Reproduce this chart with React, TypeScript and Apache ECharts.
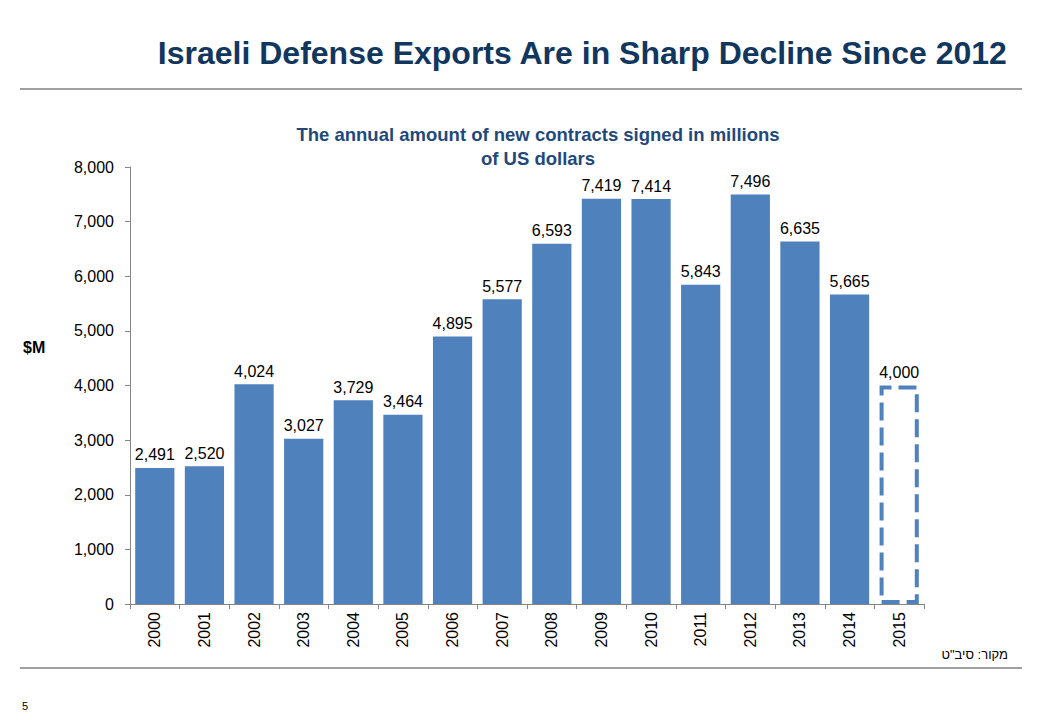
import React, { useEffect, useRef } from "react";
import * as echarts from "echarts";

const years = ["2000","2001","2002","2003","2004","2005","2006","2007","2008","2009","2010","2011","2012","2013","2014","2015"];
const values = [2491, 2520, 4024, 3027, 3729, 3464, 4895, 5577, 6593, 7419, 7414, 5843, 7496, 6635, 5665, 4000];
const estimateYear = "2015";
const yTicks = { min: 0, max: 8000, interval: 1000 };

const titleText = "Israeli Defense Exports Are in Sharp Decline Since 2012";
const subtitleText = "The annual amount of new contracts signed in millions\nof US dollars";
const unitText = "$M";
const sourceText = "מקור: סיב\"ט";
const pageNumber = "5";

const FONT = "'Liberation Sans', Arial, sans-serif";
const BAR = "#4F81BD";

export default function App() {
  const ref = useRef<HTMLDivElement>(null);
  useEffect(() => {
    if (!ref.current) return;
    const chart = echarts.init(ref.current, undefined, { renderer: "svg" });
    const data = values.map((v, i) =>
      years[i] === estimateYear
        ? {
            value: v,
            itemStyle: {
              color: "rgba(255,255,255,0)",
              borderColor: BAR,
              borderWidth: 4,
              borderType: [18, 7],
            },
          }
        : { value: v }
    );
    chart.setOption({
      animation: false,
      backgroundColor: "#fff",
      textStyle: { fontFamily: FONT },
      grid: { left: 130, right: 116, top: 167, bottom: 116, containLabel: false },
      xAxis: {
        type: "category",
        data: years,
        axisLine: { lineStyle: { color: "#868686", width: 1 } },
        axisTick: { show: true, alignWithLabel: false, length: 5, lineStyle: { color: "#868686" } },
        axisLabel: { rotate: 90, fontSize: 16, color: "#000", margin: 8, fontFamily: FONT },
      },
      yAxis: {
        type: "value",
        min: yTicks.min,
        max: yTicks.max,
        interval: yTicks.interval,
        axisLine: { show: true, lineStyle: { color: "#868686", width: 1 } },
        axisTick: { show: true, length: 5, lineStyle: { color: "#868686" } },
        splitLine: { show: false },
        axisLabel: {
          fontSize: 16,
          color: "#000",
          margin: 16,
          fontFamily: FONT,
          formatter: (v: number) => v.toLocaleString("en-US"),
        },
      },
      series: [
        {
          type: "bar",
          data,
          barCategoryGap: "21%",
          itemStyle: { color: BAR },
          label: {
            show: true,
            position: "top",
            distance: 5,
            fontSize: 16,
            color: "#000",
            fontFamily: FONT,
            formatter: (p: any) => Number(p.value).toLocaleString("en-US"),
          },
        },
      ],
      graphic: [
        {
          type: "text",
          right: 32,
          top: 37,
          style: {
            text: titleText,
            fontSize: 32,
            fontWeight: "bold",
            fill: "#12375F",
            fontFamily: FONT,
          },
        },
        {
          type: "line",
          shape: { x1: 20, y1: 89, x2: 1022, y2: 89 },
          style: { stroke: "#404040", lineWidth: 1 },
        },
        {
          type: "text",
          x: 538,
          y: 122,
          style: {
            text: subtitleText,
            fontSize: 18.5,
            fontWeight: "bold",
            fill: "#1F497D",
            fontFamily: FONT,
            align: "center",
            lineHeight: 24,
          },
        },
        {
          type: "text",
          x: 23,
          y: 339,
          style: { text: unitText, fontSize: 16, fontWeight: "bold", fill: "#000", fontFamily: FONT },
        },
        {
          type: "text",
          x: 1008,
          y: 648,
          style: { text: sourceText, fontSize: 13, fill: "#000", fontFamily: FONT, align: "right" },
        },
        {
          type: "line",
          shape: { x1: 20, y1: 668, x2: 1022, y2: 668 },
          style: { stroke: "#404040", lineWidth: 1 },
        },
        {
          type: "text",
          x: 22,
          y: 700,
          style: { text: pageNumber, fontSize: 11, fill: "#000", fontFamily: FONT },
        },
      ],
    });
    return () => chart.dispose();
  }, []);
  return <div ref={ref} style={{ width: 1040, height: 720, position: "absolute", left: 0, top: 0 }} />;
}
